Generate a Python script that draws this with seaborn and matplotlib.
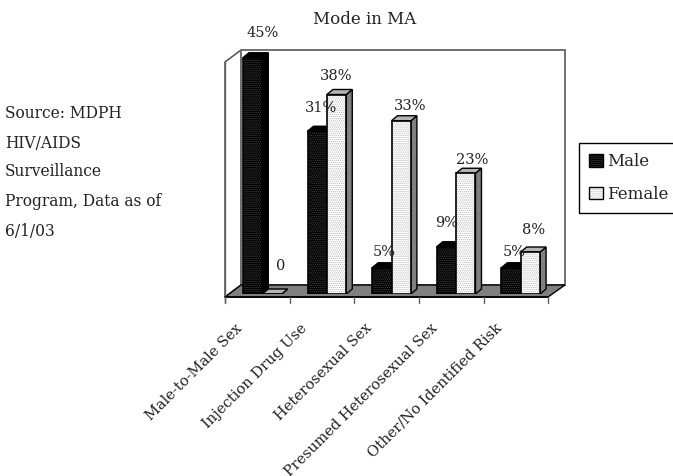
import matplotlib
matplotlib.use('Agg')
import matplotlib.pyplot as plt
import seaborn as sns
import pandas as pd
from matplotlib.patches import Patch, Polygon, Rectangle
from matplotlib.legend_handler import HandlerTuple

categories = ['Male-to-Male Sex', 'Injection Drug Use', 'Heterosexual Sex',
              'Presumed Heterosexual Sex', 'Other/No Identified Risk']
male_values = [45, 31, 5, 9, 5]
female_values = [0, 38, 33, 23, 8]
male_labels = ['45%', '31%', '5%', '9%', '5%']
female_labels = ['0', '38%', '33%', '23%', '8%']
series_names = ['Male', 'Female']
source_lines = ['Source: MDPH', 'HIV/AIDS', 'Surveillance', 'Program, Data as of', '6/1/03']
chart_title = 'Mode in MA'

W, H = 673, 476
DEPTH_X, DEPTH_Y = 6, 5   # fake 3D depth of each bar, in pixels
FONT = 'DejaVu Serif'
TEXT_COLOR = '#222222'

sns.set_theme(style='white')
plt.rcParams['font.family'] = [FONT, 'DejaVu Sans']
plt.rcParams['hatch.linewidth'] = 0.6

df = pd.DataFrame({
    'category': categories * 2,
    'series': [series_names[0]] * 5 + [series_names[1]] * 5,
    'value': male_values + female_values,
})

fig = plt.figure(figsize=(W / 100, H / 100), dpi=100, facecolor='white')

# overlay in pixel units for the box frame of the chart
bg = fig.add_axes([0, 0, 1, 1], zorder=0)
bg.set_xlim(0, W)
bg.set_ylim(H, 0)
bg.axis('off')
bg.add_patch(Polygon([(225, 62), (241, 50), (241, 285), (225, 297)], fc='white', ec='#505050', lw=1.1))
bg.add_patch(Polygon([(241, 50), (565, 50), (565, 285), (241, 285)], fc='white', ec='#707070', lw=1.4))
bg.add_patch(Polygon([(225, 297), (241, 285), (565, 285), (548, 297)], fc='#808080', ec='black', lw=1))
bg.plot([225, 225], [62, 303], color='#606060', lw=1)
bg.plot([225, 548], [297, 297], color='black', lw=1.2)
for tx in [225, 290, 354, 419, 484, 548]:
    bg.plot([tx, tx], [297, 303], color='#606060', lw=1)

# bars: 5 px right of the front axis, baseline at y=294, 5.25 px per percent
ax = fig.add_axes([230 / W, (H - 294) / H, 323 / W, 262.5 / H], zorder=1)
ax.patch.set_visible(False)
sns.barplot(data=df, x='category', y='value', hue='series', order=categories,
            hue_order=series_names, palette=['black', 'white'], width=0.6, gap=0,
            legend=False, ax=ax)
ax.set_ylim(0, 50)
ax.set_xlim(-0.5, 4.5)
ax.axis('off')

px_x = 5 / 323
px_y = 50 / 262.5
n = len(categories)
bars = list(ax.patches[:2 * n])
for i, bar in enumerate(bars):
    is_male = i < n
    x0, w, h = bar.get_x(), bar.get_width(), bar.get_height()
    dx, dy = DEPTH_X * px_x, DEPTH_Y * px_y
    z = 3 + i % n * 2 + (0 if is_male else 1)
    bar.set_zorder(z)
    bar.set_linewidth(0)
    bar.set_edgecolor('#444444' if is_male else '#b8b8b8')
    bar.set_hatch('.' * 8)
    ax.add_patch(Rectangle((x0, 0), w, h, fc='none', ec='black', lw=1.2, zorder=z + 0.2))
    ax.add_patch(Polygon([(x0 + w, 0), (x0 + w + dx, dy), (x0 + w + dx, h + dy), (x0 + w, h)],
                         fc='black' if is_male else '#808080', ec='black', lw=1, zorder=z - 0.1))
    ax.add_patch(Polygon([(x0, h), (x0 + dx, h + dy), (x0 + w + dx, h + dy), (x0 + w, h)],
                         fc='black' if is_male else '#b4b4b4', ec='black', lw=1, zorder=z - 0.1))

fs = 10.5
# label nudges in pixels from each bar's top centre, they are uneven in the original
label_nudges = [(10, 25), (4, 23), (2, 16), (0, 24), (3, 16),
                (9, 28), (0, 18), (9, 15), (6, 13), (3, 22)]
all_labels = male_labels + female_labels
for bar, text, nudge in zip(bars, all_labels, label_nudges):
    ax.annotate(text, (bar.get_x() + bar.get_width() / 2, bar.get_height()), xytext=nudge,
                textcoords='offset pixels', ha='center', va='center', fontsize=fs,
                color=TEXT_COLOR, zorder=30)

# category labels hang off the front axis ticks
for i, name in enumerate(categories):
    fig.text((235 + i * 65) / W, (H - 321) / H, name, rotation=45, rotation_mode='anchor',
             ha='right', va='top', fontsize=fs, color=TEXT_COLOR)

fig.text(365 / W, 1 - 20 / H, chart_title, ha='center', va='center', fontsize=12, color=TEXT_COLOR)
for line, yy in zip(source_lines, [114, 143, 172, 202, 231]):
    fig.text(5 / W, 1 - yy / H, line, ha='left', va='center', fontsize=11.2, color=TEXT_COLOR)

colors = {'Male': ('black', '#444444'), 'Female': ('white', '#b8b8b8')}
handles = []
for name in series_names:
    fc, dot = colors[name]
    handles.append((Patch(fc=fc, ec=dot, lw=0, hatch='.' * 8), Patch(fc='none', ec='black', lw=1)))
leg = fig.legend(handles, series_names, handler_map={tuple: HandlerTuple(ndivide=1, pad=0)},
                 loc='upper left', bbox_to_anchor=(579 / W, 1 - 143 / H), borderaxespad=0,
                 frameon=True, fancybox=False, edgecolor='black', framealpha=1, fontsize=12,
                 handlelength=0.84, handleheight=0.8, handletextpad=0.25, labelspacing=0.95,
                 borderpad=0.6, labelcolor=TEXT_COLOR)
leg.get_frame().set_linewidth(1)

fig.savefig('out.png', dpi=100)
plt.close(fig)
